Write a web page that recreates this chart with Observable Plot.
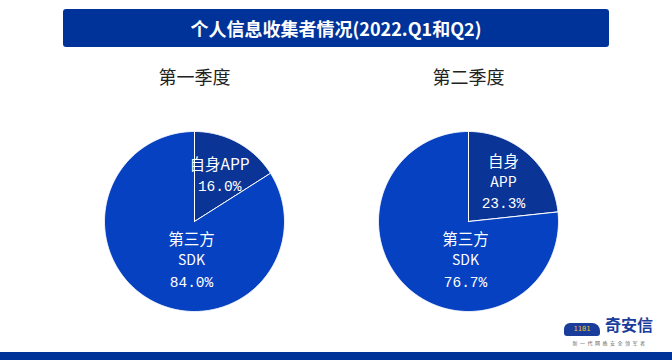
<!DOCTYPE html>
<html><head><meta charset="utf-8">
<script src="https://cdn.jsdelivr.net/npm/d3@7"></script>
<script src="https://cdn.jsdelivr.net/npm/@observablehq/plot@0.6"></script>
<style>
html,body{margin:0;padding:0;background:#fff;width:672px;height:360px;overflow:hidden;font-family:"Noto Sans CJK SC","Noto Sans",sans-serif;}
#wrap{position:relative;width:672px;height:360px;}
#top{height:56px;position:relative;}
#banner{position:absolute;left:63px;top:9px;width:546px;height:38px;background:#003399;border-radius:3px;color:#fff;font-weight:bold;font-size:18px;text-align:center;line-height:38px;}
#bottom{height:8px;background:#003399;}
#logoN{position:absolute;left:605px;top:314px;color:#1a3d9c;font-weight:bold;font-size:16px;line-height:20px;}
#logoS{position:absolute;left:569px;top:340px;width:82px;text-align:center;color:#666;font-size:5px;line-height:6px;letter-spacing:2.5px;white-space:nowrap;}
#icon{position:absolute;left:564px;top:323px;width:36px;height:13px;background:#1a3d9c;border-radius:6px 8px 3px 3px;color:#f2c230;font-size:7px;line-height:13px;text-align:center;font-family:"DejaVu Sans Mono";}
#chart svg{display:block;}
</style></head>
<body><div id="wrap">
<div id="top"><div id="banner">个人信息收集者情况(2022.Q1和Q2)</div></div>
<div id="chart"></div>
<div id="bottom"></div>
<div id="icon">1101</div>
<div id="logoN">奇安信</div><div id="logoS">新一代网络安全领军者</div>
</div>
<script>
const quarters = ["第一季度", "第二季度"];
const categories = ["自身APP", "第三方SDK"];
const shares = [[16.0, 84.0], [23.3, 76.7]];
const labelLines = [[["自身APP"], ["第三方", "SDK"]], [["自身", "APP"], ["第三方", "SDK"]]];
const colors = ["#0a3597", "#0541c1"];

// layout (pixels)
const W = 672, H = 296, R = 90, C0 = 194, Cgap = 274, CY = 165;
const centers = quarters.map((q, i) => ({q, cx: i * Cgap / R, cy: 0}));

const pie = d3.pie().sort(null).value(d => d);
const polys = [];
shares.forEach((vals, i) => {
  const arcs = pie(vals);
  arcs.forEach((a, j) => {
    const key = i + "-" + j;
    const cx = centers[i].cx;
    polys.push({key, x: cx, y: 0, color: colors[j]});
    const n = Math.max(2, Math.ceil((a.endAngle - a.startAngle) / (Math.PI / 360)));
    for (let k = 0; k <= n; k++) {
      const t = a.startAngle + (a.endAngle - a.startAngle) * k / n;
      polys.push({key, x: cx + Math.sin(t), y: Math.cos(t), color: colors[j]});
    }
    polys.push({key, x: cx, y: 0, color: colors[j]});
  });
});

// label anchors: small slice at mid-angle, big slice below centre
const nameRows = [], pctRows = [];
const LH = 21;
shares.forEach((vals, i) => {
  const arcs = pie(vals);
  arcs.forEach((a, j) => {
    let ax, ay;
    if (j === 0) {
      const m = (a.startAngle + a.endAngle) / 2;
      ax = centers[i].cx + 0.58 * Math.sin(m); ay = 0.58 * Math.cos(m);
    } else {
      ax = centers[i].cx - 3 / R; ay = -39.5 / R;
    }
    const lines = labelLines[i][j];
    const n = lines.length + 1;
    lines.forEach((t, k) => nameRows.push({x: ax, y: ay - (k - (n - 1) / 2) * LH / R, t, cjk: /[^\x00-\x7f]/.test(t)}));
    pctRows.push({x: ax, y: ay - ((n - 1) / 2) * LH / R, t: vals[j].toFixed(1) + "%"});
  });
});

const chart = Plot.plot({
  width: W, height: H, margin: 0,
  x: {domain: [-C0 / R, (W - C0) / R], axis: null},
  y: {domain: [(CY - H) / R, CY / R], axis: null},
  color: {type: "identity"},
  marks: [
    Plot.line(polys, {x: "x", y: "y", z: "key", fill: "color", stroke: "#fff", strokeWidth: 1, curve: "linear"}),
    Plot.text(centers, {x: "cx", y: () => (CY - 22) / R, text: "q", fontSize: 18, fill: "#222", fontFamily: "Noto Sans CJK SC"}),
    Plot.text(nameRows.filter(d => d.cjk), {x: "x", y: "y", text: "t", fill: "#fff", fontSize: 15.5, fontFamily: "Noto Sans CJK SC"}),
    Plot.text(nameRows.filter(d => !d.cjk), {x: "x", y: "y", text: "t", fill: "#fff", fontSize: 14, fontFamily: "Noto Sans CJK SC"}),
    Plot.text(pctRows, {x: "x", y: "y", text: "t", fill: "#fff", fontSize: 14.5, fontFamily: "Liberation Mono"})
  ]
});
document.getElementById("chart").appendChild(chart);
</script></body></html>
